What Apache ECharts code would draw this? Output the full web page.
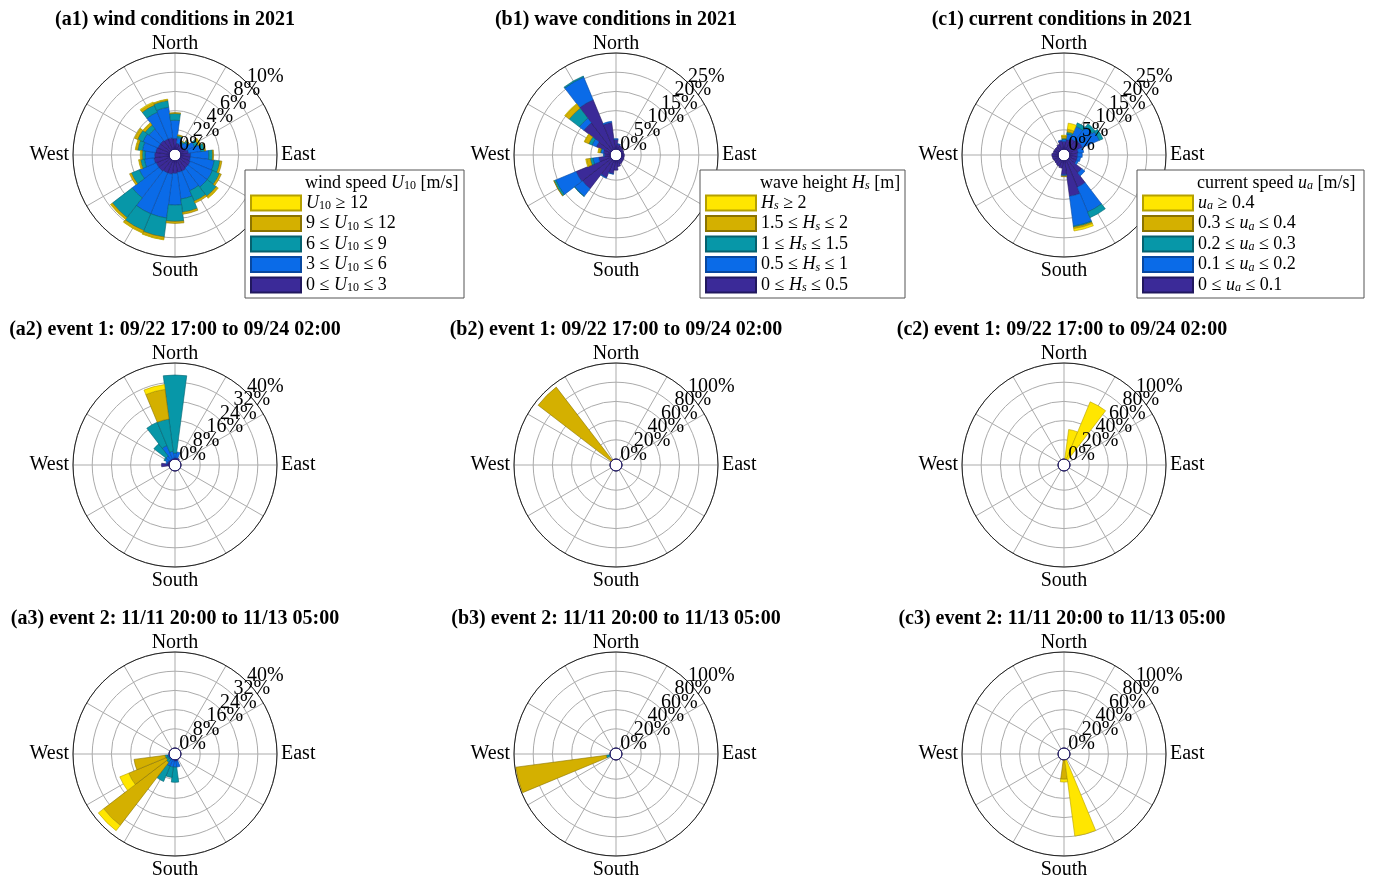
<!DOCTYPE html>
<html><head><meta charset="utf-8">
<script src="https://cdn.jsdelivr.net/npm/echarts@6/dist/echarts.min.js"></script>
<style>html,body{margin:0;padding:0;background:#fff}#c{width:1373px;height:879px}</style>
</head><body><div id="c"></div>
<script>
// ---- categories (bin centres, degrees clockwise from North) ----
const directions = ['0','15','30','45','60','75','90','105','120','135','150','165','180','195','210','225','240','255','270','285','300','315','330','345'];
const directionNames = {'0':'{n|North}','90':'East','180':'South','270':'West'};

// ---- panel titles ----
const panelTitles = [
  '(a1) wind conditions in 2021','(b1) wave conditions in 2021','(c1) current conditions in 2021',
  '(a2) event 1: 09/22 17:00 to 09/24 02:00','(b2) event 1: 09/22 17:00 to 09/24 02:00','(c2) event 1: 09/22 17:00 to 09/24 02:00',
  '(a3) event 2: 11/11 20:00 to 11/13 05:00','(b3) event 2: 11/11 20:00 to 11/13 05:00','(c3) event 2: 11/11 20:00 to 11/13 05:00'
];
// ---- radial axis maxima (percent) ----
const ringMax = [10,25,25, 40,100,100, 40,100,100];

// ---- (a1) wind 2021 ----
const a1_navy  = [1.1,0.6,0.5,0.5,0.6,0.8,1.0,1.0,1.1,1.1,1.2,1.2,1.3,1.4,1.4,1.5,1.5,1.6,1.5,1.4,1.3,1.3,1.2,1.2];
const a1_blue  = [1.9,0.6,0.3,0.5,1.0,1.3,1.9,2.5,2.5,2.5,2.2,2.8,3.3,4.6,4.6,3.5,1.9,1.0,1.0,1.4,1.7,1.5,3.0,3.2];
const a1_teal  = [0.7,0.2,0.15,0.2,0.4,0.4,0.4,0.6,0.8,1.2,1.2,1.4,1.7,2.0,1.9,2.6,0.9,0.4,0.3,0.5,0.6,0.5,0.8,0.7];
const a1_gold  = [0.1,0.1,0.05,0.1,0.2,0.1,0.1,0.2,0.2,0.2,0.2,0.2,0.2,0.25,0.25,0.2,0.2,0.15,0.15,0.2,0.3,0.25,0.25,0.1];
const a1_yellow= [0,0,0,0,0.05,0,0,0,0,0.05,0,0,0,0.05,0.05,0.05,0,0.05,0.05,0.05,0.05,0.05,0.1,0.05];
// ---- (b1) wave 2021 ----
const b1_navy  = [2.5,1.3,1.0,0.8,0.6,0.5,0.6,0.6,0.7,0.8,1.0,1.5,2.4,3.4,4.8,9.5,9.7,3.0,1.5,1.8,4.0,9.0,14.0,7.0];
const b1_blue  = [0.2,0.1,0,0,0,0,0,0,0,0,0,0,0,0.1,0.2,2.5,5.7,1.5,0.2,0.6,1.2,1.5,6.4,0.3];
const b1_teal  = [0,0,0,0,0,0,0,0,0,0,0,0,0,0,0,0.1,0.5,0.7,0,0.2,0.9,3.3,0.3,0];
const b1_gold  = [0,0,0,0,0,0,0,0,0,0,0,0,0,0,0,0,0.1,1.0,0,0.5,1.2,1.3,0,0];
const b1_yellow= [0,0,0,0,0,0,0,0,0,0,0,0,0,0,0,0,0,0.2,0,0.1,0.1,0.2,0,0];
// ---- (c1) current 2021 ----
const c1_navy  = [2.0,2.5,3.0,3.5,3.6,2.2,2.0,2.0,2.0,4.3,7.5,9.3,3.6,1.9,1.6,1.4,1.3,1.5,1.6,1.3,1.2,1.2,1.5,2.2];
const c1_blue  = [0.5,1.5,3.5,4.2,4.8,1.4,1.2,0.8,0.5,1.0,7.0,7.8,0.3,0,0,0,0,0,0,0,0,0,0,0.2];
const c1_teal  = [0.3,0.5,1.0,1.0,1.0,0,0,0,0,0,1.6,0.3,0,0,0,0,0,0,0,0,0,0,0,0];
const c1_gold  = [0.6,0.7,0,0,0,0,0,0,0,0,0,0.4,0.2,0,0,0,0,0,0,0,0,0,0,0];
const c1_yellow= [0.2,1.6,0,0,0,0,0,0,0,0,0,0.6,0,0,0,0,0,0,0,0,0,0,0,0];
// ---- (a2) wind event 1 ----
const a2_navy  = [0.5,0.5,0.5,0,0,0,0,0,0,0,0,0,0,0,0,0,0,0,3.1,0.8,0.5,0.3,0.3,0.3];
const a2_blue  = [2.0,2.5,0,0,0,0,0,0,0,0,0,0,0,0,0,0,0,0,0,0.5,1.5,2.0,6.0,3.0];
const a2_teal  = [32.5,0,0,0,0,0,0,0,0,0,0,0,0,0,0,0,0,0,0,0,0.5,6.3,10.5,13.5];
const a2_gold  = [0,0,0,0,0,0,0,0,0,0,0,0,0,0,0,0,0,0,0,0,0,0,0,12.5];
const a2_yellow= [0,0,0,0,0,0,0,0,0,0,0,0,0,0,0,0,0,0,0,0,0,0,0,2.0];
// ---- (b2) wave event 1 ----
const b2_navy  = [0,0,0,0,0,0,0,0,0,0,0,0,0,0,0,0,0,0,0,0,0,0,0,0];
const b2_blue  = [0,0,0,0,0,0,0,0,0,0,0,0,0,0,0,0,0,0,0,0,0,0,0,0];
const b2_teal  = [0,0,0,0,0,0,0,0,0,0,0,0,0,0,0,0,0,0,0,0,0,0,0,0];
const b2_gold  = [0,0,0,0,0,0,0,0,0,0,0,0,0,0,0,0,0,0,0,0,0,96,0,0];
const b2_yellow= [0,0,0,0,0,0,0,0,0,0,0,0,0,0,0,0,0,0,0,0,0,0,0,0];
// ---- (c2) current event 1 ----
const c2_navy  = [0,0,0,0,0,0,0,0,0,0,0,0,0,0,0,0,0,0,0,0,0,0,0,0];
const c2_blue  = [0,0,0,0,0,0,0,0,0,0,0,0,0,0,0,0,0,0,0,0,0,0,0,0];
const c2_teal  = [0,0,0,0,0,0,0,0,0,0,0,0,0,0,0,0,0,0,0,0,0,0,0,0];
const c2_gold  = [0,0,0,0,0,0,0,0,0,0,0,0,0,0,0,0,0,0,0,0,0,0,0,0];
const c2_yellow= [0,31,65,0,0,0,0,0,0,0,0,0,0,0,0,0,0,0,0,0,0,0,0,0];
// ---- (a3) wind event 2 ----
const a3_navy  = [0,0,0,0,0,0,0,0,0,0,0,0.5,0.5,0,0,0,0,0,0,0,0,0,0,0];
const a3_blue  = [0,0,0,0,0,0,0,0,0,0,0,2.5,2.5,3.0,3.0,0.5,0.5,0.7,0,0,0,0,0,0];
const a3_teal  = [0,0,0,0,0,0,0,0,0,0,0,0,6.3,4.4,6.9,1.5,1.0,1.0,0,0,0,0,0,0];
const a3_gold  = [0,0,0,0,0,0,0,0,0,0,0,0,0,0,0,33,16.9,13.0,0,0,0,0,0,0];
const a3_yellow= [0,0,0,0,0,0,0,0,0,0,0,0,0,0,0,2.8,4.0,0,0,0,0,0,0,0];
// ---- (b3) wave event 2 ----
const b3_navy  = [0,0,0,0,0,0,0,0,0,0,0,0,0,0,0,0,0,0,0,0,0,0,0,0];
const b3_blue  = [0,0,0,0,0,0,0,0,0,0,0,0,0,0,0,0,0,0,0,0,0,0,0,0];
const b3_teal  = [0,0,0,0,0,0,0,0,0,0,0,0,0,0,0,0,0,4,0,0,0,0,0,0];
const b3_gold  = [0,0,0,0,0,0,0,0,0,0,0,0,0,0,0,0,0,95,0,0,0,0,0,0];
const b3_yellow= [0,0,0,0,0,0,0,0,0,0,0,0,0,0,0,0,0,0,0,0,0,0,0,0];
// ---- (c3) current event 2 ----
const c3_navy  = [0,0,0,0,0,0,0,0,0,0,0,0,0,0,0,0,0,0,0,0,0,0,0,0];
const c3_blue  = [0,0,0,0,0,0,0,0,0,0,0,0,0,0,0,0,0,0,0,0,0,0,0,0];
const c3_teal  = [0,0,0,0,0,0,0,0,0,0,0,0,0,0,0,0,0,0,0,0,0,0,0,0];
const c3_gold  = [0,0,0,0,0,0,0,0,0,0,0,0,20,0,0,0,0,0,0,0,0,0,0,0];
const c3_yellow= [0,0,0,0,0,0,0,0,0,0,0,80,3,0,0,0,0,0,0,0,0,0,0,0];

// ---- legend labels ----
const windLegend  = ['{i|U}{s|10} ≥ 12','9 ≤ {i|U}{s|10} ≤ 12','6 ≤ {i|U}{s|10} ≤ 9','3 ≤ {i|U}{s|10} ≤ 6','0 ≤ {i|U}{s|10} ≤ 3'];
const waveLegend  = ['{i|H}{si|s} ≥ 2','1.5 ≤ {i|H}{si|s} ≤ 2','1 ≤ {i|H}{si|s} ≤ 1.5','0.5 ≤ {i|H}{si|s} ≤ 1','0 ≤ {i|H}{si|s} ≤ 0.5'];
const currLegend  = ['{i|u}{si|a} ≥ 0.4','0.3 ≤ {i|u}{si|a} ≤ 0.4','0.2 ≤ {i|u}{si|a} ≤ 0.3','0.1 ≤ {i|u}{si|a} ≤ 0.2','0 ≤ {i|u}{si|a} ≤ 0.1'];
const legendTitles = ['wind speed {i|U}{s|10} [m/s]','wave height {i|H}{si|s} [m]','current speed {i|u}{si|a} [m/s]'];

// ---------------- build -----------------
const FONT = "'Liberation Serif','Times New Roman',serif";
const colors  = ['#3B2A98','#0A6BE8','#0797A8','#D4B000','#FFE600'];
const borders = ['#21185e','#0848a0','#05616e','#8a7300','#b5a000'];
const panelData = [
  [a1_navy,a1_blue,a1_teal,a1_gold,a1_yellow],[b1_navy,b1_blue,b1_teal,b1_gold,b1_yellow],[c1_navy,c1_blue,c1_teal,c1_gold,c1_yellow],
  [a2_navy,a2_blue,a2_teal,a2_gold,a2_yellow],[b2_navy,b2_blue,b2_teal,b2_gold,b2_yellow],[c2_navy,c2_blue,c2_teal,c2_gold,c2_yellow],
  [a3_navy,a3_blue,a3_teal,a3_gold,a3_yellow],[b3_navy,b3_blue,b3_teal,b3_gold,b3_yellow],[c3_navy,c3_blue,c3_teal,c3_gold,c3_yellow]
];
const groups = ['w','h','c'];
const colX = [175, 616, 1064];
const rowY = [155, 465, 754];
const titleX = [175, 616, 1062];
const titleY = [10, 320, 609];
const R0 = 6, R1 = 102;

const polar = [], angleAxis = [], radiusAxis = [], series = [], title = [];
panelData.forEach((classes, k) => {
  const col = k % 3, row = Math.floor(k / 3);
  const c = [colX[col], rowY[row]];
  const M = ringMax[k];
  const step = M / 5;
  const base = polar.length;
  // grid polar
  polar.push({center: c, radius: [R0, R1]});
  angleAxis.push({polarIndex: base, type: 'value', min: 0, max: 360, interval: 30, startAngle: 90, clockwise: true,
    axisLine: {show: true, lineStyle: {color: '#222', width: 1}}, axisTick: {show: false}, axisLabel: {show: false},
    splitLine: {show: true, lineStyle: {color: '#ababab', width: 1}}});
  radiusAxis.push({polarIndex: base, type: 'value', min: 0, max: M, interval: step,
    axisLine: {show: false}, axisTick: {show: false}, axisLabel: {show: false},
    splitLine: {show: true, lineStyle: {color: '#ababab', width: 1}}});
  // bar polar
  polar.push({center: c, radius: [R0, R1]});
  angleAxis.push({polarIndex: base + 1, type: 'category', data: directions, startAngle: 97.5, clockwise: true, boundaryGap: true,
    axisLine: {show: false}, axisTick: {show: false}, splitLine: {show: false},
    axisLabel: {show: true, interval: 0, margin: 4, fontFamily: FONT, fontSize: 20, color: '#000',
      rich: {n: {fontFamily: FONT, fontSize: 20, color: '#000', lineHeight: 10}},
      formatter: v => directionNames[v] || ''}});
  radiusAxis.push({polarIndex: base + 1, type: 'value', min: 0, max: M, show: false});
  // two label polars (even / odd rings), so neighbouring labels are never culled
  [0, 1].forEach(parity => {
    const idx = polar.length;
    polar.push({center: c, radius: [R0, R1]});
    angleAxis.push({polarIndex: idx, type: 'value', min: 0, max: 360, startAngle: 45, show: false});
    radiusAxis.push({polarIndex: idx, type: 'value', min: 0, max: M, interval: step, z: 10,
      axisLine: {show: false}, axisTick: {show: false}, splitLine: {show: false},
      axisLabel: {show: true, showMinLabel: parity === 0, showMaxLabel: parity === 1, margin: 0, align: 'left', verticalAlign: 'bottom',
        lineHeight: 13, fontFamily: FONT, fontSize: 20, color: '#000',
        formatter: v => (Math.round(v / step) % 2 === parity) ? v + '%' : ''}});
  });
  // hole polar
  const h = polar.length;
  polar.push({center: c, radius: R0});
  angleAxis.push({polarIndex: h, type: 'value', min: 0, max: 360, z: 5,
    axisLine: {show: true, lineStyle: {color: '#2a2080', width: 1}}, axisTick: {show: false}, axisLabel: {show: false}, splitLine: {show: false}});
  radiusAxis.push({polarIndex: h, type: 'value', min: 0, max: 1, show: false});

  classes.forEach((arr, j) => {
    series.push({type: 'bar', coordinateSystem: 'polar', polarIndex: base + 1, stack: 'p' + k,
      name: groups[col] + j, barCategoryGap: '0%', silent: true, animation: false,
      itemStyle: {color: colors[j], borderColor: borders[j], borderWidth: 0.6},
      data: arr.map(v => v === 0 ? null : v)});
  });
  title.push({text: panelTitles[k], left: titleX[col], top: titleY[row], textAlign: 'center', padding: 0,
    textStyle: {fontFamily: FONT, fontSize: 20, fontWeight: 'bold', color: '#000'}});
});

const rich = {
  i: {fontFamily: FONT, fontSize: 18, fontStyle: 'italic', color: '#000', lineHeight: 18},
  s: {fontFamily: FONT, fontSize: 12, color: '#000', lineHeight: 12, verticalAlign: 'bottom'},
  si: {fontFamily: FONT, fontSize: 12, fontStyle: 'italic', color: '#000', lineHeight: 12, verticalAlign: 'bottom'}
};
const legendBoxes = [
  {left: 245, top: 170, width: 218, titleLeft: 305, labels: windLegend},
  {left: 700, top: 170, width: 204, titleLeft: 760, labels: waveLegend},
  {left: 1137, top: 170, width: 226, titleLeft: 1197, labels: currLegend}
];
const legend = legendBoxes.map((b, g) => {
  const names = [4,3,2,1,0].map(j => groups[g] + j);
  const map = {};
  names.forEach((n, idx) => map[n] = b.labels[idx]);
  return {orient: 'vertical', left: b.left, top: b.top, data: names, icon: 'rect', selectedMode: false,
    itemWidth: 50, itemHeight: 15, itemGap: 2.5, padding: [24, 5, 4, 5],
    backgroundColor: '#fff', borderColor: '#555', borderWidth: 1, z: 20,
    formatter: n => map[n],
    textStyle: {fontFamily: FONT, fontSize: 18, color: '#000', lineHeight: 18, width: b.width - 65, rich: rich}};
});
legendBoxes.forEach((b, g) => {
  title.push({text: legendTitles[g], left: b.titleLeft, top: b.top + 4, padding: 0, z: 30,
    textStyle: {fontFamily: FONT, fontSize: 18, fontWeight: 'normal', color: '#000', lineHeight: 18, rich: rich}});
});

const chart = echarts.init(document.getElementById('c'), null, {renderer: 'canvas'});
chart.setOption({animation: false, backgroundColor: '#fff', title, legend, polar, angleAxis, radiusAxis, series});
</script></body></html>
